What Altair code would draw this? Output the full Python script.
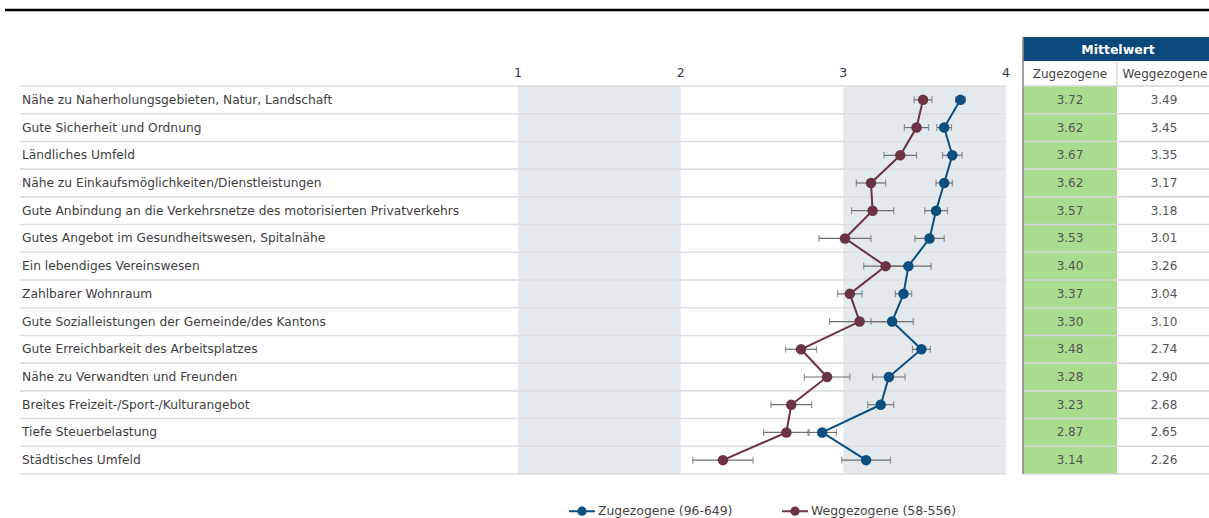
import altair as alt
import pandas as pd

items = [
    "Nähe zu Naherholungsgebieten, Natur, Landschaft",
    "Gute Sicherheit und Ordnung",
    "Ländliches Umfeld",
    "Nähe zu Einkaufsmöglichkeiten/Dienstleistungen",
    "Gute Anbindung an die Verkehrsnetze des motorisierten Privatverkehrs",
    "Gutes Angebot im Gesundheitswesen, Spitalnähe",
    "Ein lebendiges Vereinswesen",
    "Zahlbarer Wohnraum",
    "Gute Sozialleistungen der Gemeinde/des Kantons",
    "Gute Erreichbarkeit des Arbeitsplatzes",
    "Nähe zu Verwandten und Freunden",
    "Breites Freizeit-/Sport-/Kulturangebot",
    "Tiefe Steuerbelastung",
    "Städtisches Umfeld",
]
zug_mean = [3.72, 3.62, 3.67, 3.62, 3.57, 3.53, 3.40, 3.37, 3.30, 3.48, 3.28, 3.23, 2.87, 3.14]
weg_mean = [3.49, 3.45, 3.35, 3.17, 3.18, 3.01, 3.26, 3.04, 3.10, 2.74, 2.90, 2.68, 2.65, 2.26]
zug_ci = [0.03, 0.045, 0.06, 0.05, 0.07, 0.09, 0.14, 0.05, 0.13, 0.055, 0.10, 0.08, 0.087, 0.15]
weg_ci = [0.055, 0.075, 0.10, 0.09, 0.13, 0.16, 0.135, 0.075, 0.185, 0.095, 0.14, 0.125, 0.14, 0.185]
tick_values = [1, 2, 3, 4]
band_start = [1, 3]
band_end = [2, 4]
series = ["Zugezogene (96-649)", "Weggezogene (58-556)"]
series_colors = ["#0b4f80", "#6b3343"]
col_headers = ["Zugezogene", "Weggezogene"]
table_title = "Mittelwert"

FONT = "DejaVu Sans"

rows = []
for i, it in enumerate(items):
    rows.append(dict(idx=i, item=it, group=series[0], mean=zug_mean[i],
                     lo=zug_mean[i] - zug_ci[i], hi=zug_mean[i] + zug_ci[i]))
    rows.append(dict(idx=i, item=it, group=series[1], mean=weg_mean[i],
                     lo=weg_mean[i] - weg_ci[i], hi=weg_mean[i] + weg_ci[i]))
df = pd.DataFrame(rows)

df_items = pd.DataFrame(dict(idx=list(range(len(items))), item=items,
                             zug=[f"{v:.2f}" for v in zug_mean],
                             weg=[f"{v:.2f}" for v in weg_mean]))
df_items["top"] = df_items["idx"] - 0.5
df_items["bot"] = df_items["idx"] + 0.5
df_lines = pd.DataFrame(dict(b=[i - 0.5 for i in range(len(items) + 1)]))
df_ticks = pd.DataFrame(dict(v=tick_values))
df_bands = pd.DataFrame(dict(s=band_start, e=band_end))
df_title = pd.DataFrame(dict(t=[table_title]))
df_h1 = pd.DataFrame(dict(t=[col_headers[0]]))
df_h2 = pd.DataFrame(dict(t=[col_headers[1]]))

X = alt.Scale(domain=[1, 4], range=[518, 1006], nice=False, zero=False)
Y = alt.Scale(domain=[-0.5, len(items) - 0.5], range=[86, 474], nice=False, zero=False)
C = alt.Scale(domain=series, range=series_colors)

legend = alt.Legend(
    title=None, orient="none", legendX=568, legendY=497, direction="horizontal",
    symbolType="M-1,0L1,0M-0.28,0A0.28,0.28,0,1,1,0.28,0A0.28,0.28,0,1,1,-0.28,0Z",
    symbolSize=676, symbolStrokeWidth=2, labelFont=FONT, labelFontSize=12.4,
    labelColor="#444444", columnPadding=45, padding=0, labelOffset=2,
)

top_rule = alt.Chart(df_title).mark_rule(color="black", strokeWidth=2.5).encode(
    x=alt.value(5), x2=alt.value(1209), y=alt.value(10))

bands = alt.Chart(df_bands).mark_rect(color="#e4e9ee").encode(
    x=alt.X("s:Q", scale=X, axis=None), x2="e:Q",
    y=alt.value(86), y2=alt.value(474))

row_lines = alt.Chart(df_lines).mark_rule(color="#dedede", strokeWidth=1.6).encode(
    y=alt.Y("b:Q", scale=Y, axis=None), x=alt.value(20), x2=alt.value(1006))

tick_text = alt.Chart(df_ticks).mark_text(font=FONT, fontSize=12.5, color="#2b3a4a",
                                          baseline="middle").encode(
    x=alt.X("v:Q", scale=X, axis=None), y=alt.value(73), text="v:Q")

row_text = alt.Chart(df_items).mark_text(font=FONT, fontSize=12.25, color="#404040",
                                         align="left", baseline="middle").encode(
    x=alt.value(22), y=alt.Y("idx:Q", scale=Y, axis=None), text="item:N")

err = alt.Chart(df).mark_rule(color="#6e6e6e", strokeWidth=1.2).encode(
    x=alt.X("lo:Q", scale=X, axis=None), x2="hi:Q",
    y=alt.Y("idx:Q", scale=Y, axis=None))
cap_lo = alt.Chart(df).mark_tick(color="#6e6e6e", orient="vertical", size=7, thickness=1.2).encode(
    x=alt.X("lo:Q", scale=X, axis=None), y=alt.Y("idx:Q", scale=Y, axis=None))
cap_hi = alt.Chart(df).mark_tick(color="#6e6e6e", orient="vertical", size=7, thickness=1.2).encode(
    x=alt.X("hi:Q", scale=X, axis=None), y=alt.Y("idx:Q", scale=Y, axis=None))

lines = alt.Chart(df).mark_line(strokeWidth=2).encode(
    x=alt.X("mean:Q", scale=X, axis=None), y=alt.Y("idx:Q", scale=Y, axis=None),
    color=alt.Color("group:N", scale=C, legend=legend), order="idx:Q")
points = alt.Chart(df).mark_circle(size=110, opacity=1).encode(
    x=alt.X("mean:Q", scale=X, axis=None), y=alt.Y("idx:Q", scale=Y, axis=None),
    color=alt.Color("group:N", scale=C, legend=legend))

# table
green = alt.Chart(df_items).mark_rect(color="#a9dc8e").encode(
    x=alt.value(1023), x2=alt.value(1117),
    y=alt.Y("top:Q", scale=Y, axis=None), y2="bot:Q")
tab_lines = alt.Chart(df_lines).mark_rule(color="#d6d6d6", strokeWidth=1.6).encode(
    y=alt.Y("b:Q", scale=Y, axis=None), x=alt.value(1023), x2=alt.value(1209))
header = alt.Chart(df_title).mark_rect(color="#0b477a").encode(
    x=alt.value(1023), x2=alt.value(1209), y=alt.value(37), y2=alt.value(61))
header_text = alt.Chart(df_title).mark_text(font=FONT, fontSize=12.5, fontWeight="bold",
                                            color="white", baseline="middle").encode(
    x=alt.value(1118), y=alt.value(49.5), text="t:N")
h_sep = alt.Chart(df_title).mark_rule(color="#d6d6d6", strokeWidth=1.5).encode(
    x=alt.value(1117), y=alt.value(61), y2=alt.value(86))
h1 = alt.Chart(df_h1).mark_text(font=FONT, fontSize=12, color="#444444", baseline="middle").encode(
    x=alt.value(1070), y=alt.value(74), text="t:N")
h2 = alt.Chart(df_h2).mark_text(font=FONT, fontSize=12, color="#444444", baseline="middle").encode(
    x=alt.value(1165), y=alt.value(74), text="t:N")
left_border = alt.Chart(df_title).mark_rule(color="#8c8c8c", strokeWidth=1.6).encode(
    x=alt.value(1023), y=alt.value(37), y2=alt.value(474))
zug_text = alt.Chart(df_items).mark_text(font=FONT, fontSize=12, color="#555555", baseline="middle").encode(
    x=alt.value(1070), y=alt.Y("idx:Q", scale=Y, axis=None), text="zug:N")
weg_text = alt.Chart(df_items).mark_text(font=FONT, fontSize=12, color="#555555", baseline="middle").encode(
    x=alt.value(1164), y=alt.Y("idx:Q", scale=Y, axis=None), text="weg:N")

chart = alt.layer(
    top_rule, bands, row_lines, tick_text, row_text, err, cap_lo, cap_hi, lines, points,
    green, tab_lines, header, header_text, h_sep, h1, h2, left_border, zug_text, weg_text,
).properties(
    width=1209, height=518, padding=0, autosize=alt.AutoSizeParams(type="none"),
    background="white",
).configure_view(stroke=None)

chart.save("out.html", embed_options={"renderer": "svg", "actions": False})
